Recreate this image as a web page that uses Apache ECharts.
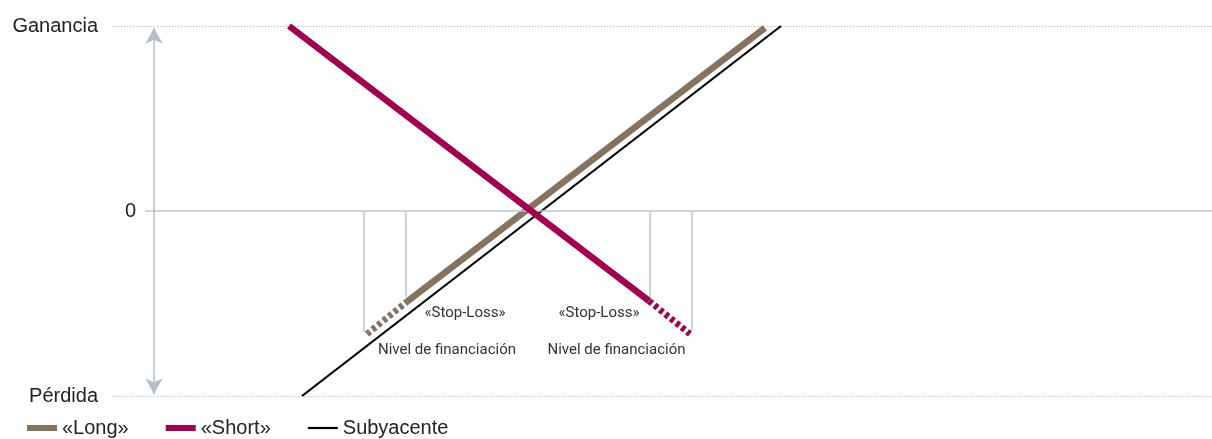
<!DOCTYPE html>
<html><head><meta charset="utf-8">
<script src="https://cdn.jsdelivr.net/npm/echarts@6/dist/echarts.min.js"></script>
<style>html,body{margin:0;padding:0;background:#fff}#c{width:1212px;height:439px}</style>
</head><body><div id="c"></div>
<script>
// y axis ticks
const yTickValues = [-1, 0, 1];
const yTickLabels = ['Pérdida', '0', 'Ganancia'];
// series (x = underlying price units, y = P&L from -1 Pérdida to 1 Ganancia)
const underlying = [[19.0, -1.0], [66.9, 1.0]];
const longSolid = [[29.5, -0.49], [65.3, 0.99]];
const longDotted = [[25.5, -0.665], [29.5, -0.49]];
const shortSolid = [[17.7, 1.0], [53.7, -0.486]];
const shortDotted = [[53.7, -0.486], [57.8, -0.665]];
// stop-loss / financing levels: [x, bottom of the guide]
const longStopLoss = [29.4, -0.465];
const longFinancing = [25.2, -0.654];
const shortStopLoss = [53.8, -0.47];
const shortFinancing = [57.95, -0.643];
const legendNames = ['«Long»', '«Short»', 'Subyacente'];

const BROWN = '#85735f', MAGENTA = '#a3004f', GUIDE = '#b9c6cf', TEXT = '#222';
const FONT = '"Liberation Sans", Arial, sans-serif';
const NARROW = 'Roboto, "Liberation Sans", sans-serif';

const chart = echarts.init(document.getElementById('c'), null, {renderer: 'canvas'});
const vguide = (p) => [{coord: [p[0], 0]}, {coord: [p[0], p[1]]}];
const txt = (t, x, y) => ({coord: [x, y], value: t, symbolSize: 0,
  label: {show: true, formatter: t, position: 'inside', fontFamily: NARROW, fontSize: 15, color: '#333'}});

chart.setOption({
  animation: false,
  grid: {left: 112, right: 0, top: 26, bottom: 43},
  xAxis: {type: 'value', min: 0, max: 110, show: false},
  yAxis: {
    type: 'value', min: -1, max: 1, interval: 2,
    axisLine: {show: false}, axisTick: {show: false},
    splitLine: {show: true, lineStyle: {type: [1.5, 1.5], color: GUIDE, width: 1}},
    axisLabel: {margin: 14, fontFamily: FONT, fontSize: 20, color: TEXT,
      formatter: v => { const i = yTickValues.indexOf(v); return i >= 0 ? yTickLabels[i] : ''; }}
  },
  legend: {
    data: [
      {name: legendNames[0], icon: 'rect'},
      {name: legendNames[1], icon: 'rect'},
      {name: legendNames[2], icon: 'path://M0,0L0,0M0,1.9L30,1.9L30,4.1L0,4.1ZM30,6L30,6'}
    ],
    left: 22, top: 413, itemWidth: 30, itemHeight: 6, itemGap: 37,
    textStyle: {fontFamily: FONT, fontSize: 20, color: TEXT}, selectedMode: false
  },
  series: [
    {name: 'guides', type: 'line', data: [], silent: true,
      markLine: {silent: true, symbol: 'none', animation: false,
        lineStyle: {color: GUIDE, width: 1.5, type: 'solid'},
        label: {show: false},
        data: [
          [{coord: [3.3, yTickValues[1]], label: {show: true, position: 'start', formatter: yTickLabels[1], distance: 9, fontFamily: FONT, fontSize: 20, color: TEXT}},
           {coord: [110, yTickValues[1]]}],
          vguide(longStopLoss), vguide(longFinancing), vguide(shortStopLoss), vguide(shortFinancing)
        ]}},
    {name: 'arrow', type: 'line', data: [], silent: true,
      markLine: {silent: true, symbol: ['arrow', 'arrow'], symbolSize: [13, 16],
        lineStyle: {color: '#b3c0ca', width: 1.5, type: 'solid'}, itemStyle: {color: '#b3c0ca'},
        label: {show: false},
        data: [[{coord: [4.2, 0.99]}, {coord: [4.2, -0.99]}]]}},
    {name: legendNames[2], type: 'line', data: underlying, showSymbol: false, symbol: 'none',
      lineStyle: {color: '#000', width: 2.2}, itemStyle: {color: '#000'}, z: 3},
    {name: legendNames[0], type: 'line', data: longSolid, symbol: 'none',
      lineStyle: {color: BROWN, width: 6.5, cap: 'butt'}, itemStyle: {color: BROWN}, z: 4,
      markPoint: {silent: true, symbol: 'circle', symbolSize: 0,
        data: [txt('«Stop-Loss»', 35.3, -0.555), txt('Nivel de financiación', 33.5, -0.75)]}},
    {name: legendNames[0], type: 'line', data: longDotted, symbol: 'none',
      lineStyle: {color: BROWN, width: 6.5, type: [4, 3], cap: 'butt'}, itemStyle: {color: BROWN}, z: 4},
    {name: legendNames[1], type: 'line', data: shortSolid, symbol: 'none',
      lineStyle: {color: MAGENTA, width: 6.5, cap: 'butt'}, itemStyle: {color: MAGENTA}, z: 5,
      markPoint: {silent: true, symbol: 'circle', symbolSize: 0,
        data: [txt('«Stop-Loss»', 48.7, -0.555), txt('Nivel de financiación', 50.45, -0.75)]}},
    {name: legendNames[1], type: 'line', data: shortDotted, symbol: 'none',
      lineStyle: {color: MAGENTA, width: 6.5, type: [4, 3], cap: 'butt'}, itemStyle: {color: MAGENTA}, z: 5}
  ]
});
</script></body></html>
